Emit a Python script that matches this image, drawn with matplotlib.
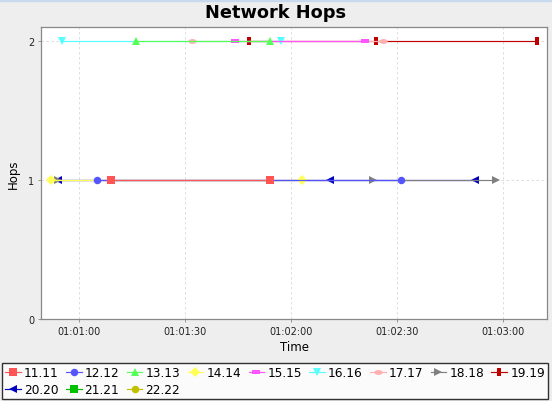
import matplotlib
matplotlib.use('Agg')
import matplotlib.pyplot as plt
import matplotlib.dates as mdates
from matplotlib.path import Path
from matplotlib.patches import Rectangle
import numpy as np
import pandas as pd

# series (time of sample, hop count)
labels = ['11.11', '12.12', '13.13', '14.14', '15.15', '16.16',
          '17.17', '18.18', '19.19', '20.20', '21.21', '22.22']
colors = ['#FF5555', '#5555FF', '#55FF55', '#FFFF55', '#FF55FF', '#55FFFF',
          '#FFAFAF', '#808080', '#C00000', '#0000C0', '#00C000', '#C0C000']

times = [
    ['01:01:09', '01:01:54'],
    ['01:01:05', '01:02:31'],
    ['01:01:16', '01:01:54'],
    ['01:00:52', '01:02:03'],
    ['01:01:44', '01:02:21'],
    ['01:00:55', '01:01:57'],
    ['01:01:32', '01:02:26'],
    ['01:00:54', '01:02:23', '01:02:58'],
    ['01:01:48', '01:02:24', '01:03:09.7'],
    ['01:00:54', '01:02:11', '01:02:52'],
    [],
    [],
]
hops = [
    [1, 1],
    [1, 1],
    [2, 2],
    [1, 1],
    [2, 2],
    [2, 2],
    [2, 2],
    [1, 1, 1],
    [2, 2, 2],
    [1, 1, 1],
    [],
    [],
]
x_ticks = ['01:01:00', '01:01:30', '01:02:00', '01:02:30', '01:03:00']
x_range = ['01:00:49.2', '01:03:12.4']
y_ticks = [0, 1, 2]

DAY = '2000-01-01 '


def to_dt(ts):
    return pd.to_datetime([DAY + t for t in ts], format='mixed')


# JFreeChart-like default shape sequence
rect_h = [(-1, -0.5), (1, -0.5), (1, 0.5), (-1, 0.5)]
rect_v = [(-0.5, -1), (0.5, -1), (0.5, 1), (-0.5, 1)]
circ = Path.unit_circle()
ellipse = Path(circ.vertices * np.array([1.0, 0.6]), circ.codes)
markers = ['s', 'o', '^', 'D', rect_h, 'v', ellipse, '>', rect_v, '<', 's', 'o']
msizes = [5.2, 5.4, 5.6, 4.6, 5.8, 5.6, 5.9, 5.6, 5.6, 5.6, 5.2, 5.4]

fig = plt.figure(figsize=(5.52, 4.02), dpi=100, facecolor='#EEEEEE')
ax = fig.add_axes([41.3 / 552, 1 - 320 / 402, (547 - 41.3) / 552, (320 - 28.3) / 402])
ax.set_facecolor('white')

handles = []
for i, lab in enumerate(labels):
    x = to_dt(times[i]) if times[i] else []
    h, = ax.plot(x, hops[i], color=colors[i], marker=markers[i], ms=msizes[i],
                 mew=0, lw=0.85, zorder=20 - i, label=lab, clip_on=False)
    handles.append(h)

ax.set_xlim(to_dt(x_range))
ax.set_ylim(0, 2.1)
ax.set_xticks(to_dt(x_ticks))
ax.xaxis.set_major_formatter(mdates.DateFormatter('%H:%M:%S'))
ax.set_yticks(y_ticks)

ax.grid(True, color='#D8D8D8', linestyle=(0, (3, 3)), lw=0.6, zorder=0)
ax.set_axisbelow(True)
for s in ax.spines.values():
    s.set_color('#888888')
    s.set_linewidth(0.9)
ax.tick_params(axis='both', length=2, width=0.6, color='#888888',
               labelsize=7, labelcolor='#222222', pad=3)

ax.set_xlabel('Time', fontsize=8.5, labelpad=3)
ax.set_ylabel('Hops', fontsize=8.5, labelpad=6)

fig.text(0.5, 1 - 13 / 402, 'Network Hops', ha='center', va='center',
         fontsize=12.8, fontweight='bold')

# thin light-blue band at the very top
fig.patches.append(Rectangle((0, 1 - 2 / 402), 1, 2 / 402, transform=fig.transFigure,
                             color='#C6D9EE', zorder=0))

# legend: matplotlib fills columns first, so reorder for row-major 9 columns
order = [0, 9, 1, 10, 2, 11, 3, 4, 5, 6, 7, 8]
leg = fig.legend([handles[k] for k in order], [labels[k] for k in order],
                 ncol=9, loc='lower left', mode='expand',
                 bbox_to_anchor=(2 / 552, 2 / 402, 546 / 552, 38 / 402),
                 bbox_transform=fig.transFigure, fontsize=8.7, frameon=True,
                 fancybox=False, edgecolor='black', facecolor='white',
                 handlelength=1.3, handletextpad=0.25, columnspacing=0.4,
                 borderpad=0.25, labelspacing=0.35, borderaxespad=0)
leg.get_frame().set_linewidth(1.0)

fig.savefig('out.png', dpi=100, facecolor=fig.get_facecolor())
